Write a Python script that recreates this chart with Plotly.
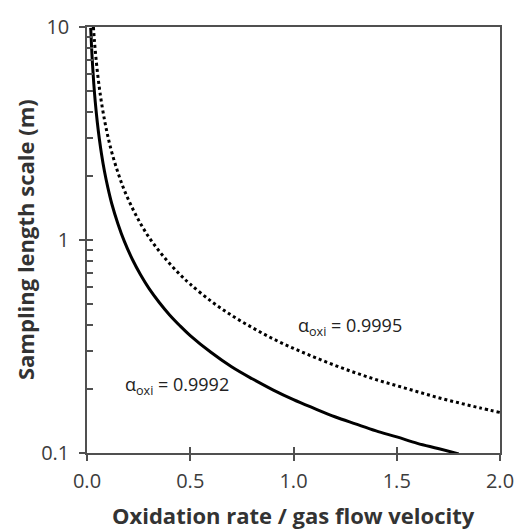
import math
import plotly.graph_objects as go

# Data
x_9992 = [0.018, 0.022, 0.027, 0.033, 0.04, 0.05, 0.06, 0.07, 0.085, 0.1, 0.12, 0.15, 0.18, 0.22, 0.26, 0.3,
          0.35, 0.4, 0.45, 0.5, 0.6, 0.7, 0.8, 0.9, 1.0, 1.1, 1.2, 1.3, 1.4, 1.5, 1.6, 1.7, 1.8]
y_9992 = [9.9, 8.1, 6.6, 5.4, 4.45, 3.56, 2.97, 2.54, 2.09, 1.78, 1.48, 1.19, 0.99, 0.81, 0.685, 0.593,
          0.509, 0.445, 0.396, 0.356, 0.297, 0.254, 0.223, 0.198, 0.178, 0.162, 0.148, 0.137, 0.127, 0.119,
          0.111, 0.105, 0.099]

x_9995 = [0.031, 0.036, 0.042, 0.05, 0.06, 0.07, 0.085, 0.1, 0.12, 0.15, 0.18, 0.22, 0.26, 0.3, 0.35, 0.4,
          0.45, 0.5, 0.6, 0.7, 0.8, 0.9, 1.0, 1.1, 1.2, 1.3, 1.4, 1.5, 1.6, 1.7, 1.8, 1.9, 2.0]
y_9995 = [10.0, 8.6, 7.4, 6.2, 5.17, 4.43, 3.65, 3.1, 2.58, 2.07, 1.72, 1.41, 1.19, 1.03, 0.886, 0.775,
          0.689, 0.62, 0.517, 0.443, 0.388, 0.344, 0.31, 0.282, 0.258, 0.238, 0.221, 0.207, 0.194, 0.182,
          0.172, 0.163, 0.155]

x_ticks = [0.0, 0.5, 1.0, 1.5, 2.0]
x_ticklabels = ["0.0", "0.5", "1.0", "1.5", "2.0"]
y_ticks = [0.1, 1, 10]
y_ticklabels = ["0.1", "1", "10"]
y_minor = [0.2, 0.3, 0.4, 0.5, 0.6, 0.7, 0.8, 0.9, 2, 3, 4, 5, 6, 7, 8, 9]

labels = ["α<sub>oxi</sub> = 0.9992", "α<sub>oxi</sub> = 0.9995"]
label_x = [0.172, 1.014]
label_y = [0.208, 0.391]

x_title = "Oxidation rate / gas flow velocity"
y_title = "Sampling length scale (m)"

AX = "#505050"
FONT = "Open Sans"

fig = go.Figure()
fig.add_trace(go.Scatter(x=x_9992, y=y_9992, mode="lines", line=dict(color="black", width=3, shape="spline"),
                         showlegend=False))
fig.add_trace(go.Scatter(x=x_9995, y=y_9995, mode="lines", line=dict(color="black", width=3, dash="dot", shape="spline"),
                         showlegend=False))
# invisible trace to anchor overlay axes (inside tick marks)
fig.add_trace(go.Scatter(x=[x_ticks[0]], y=[y_ticks[1]], xaxis="x2", yaxis="y2", mode="markers",
                         marker=dict(opacity=0), showlegend=False, hoverinfo="skip"))

fig.update_layout(
    width=526, height=531,
    margin=dict(l=87, r=21, t=27, b=78),
    paper_bgcolor="white", plot_bgcolor="white",
    font=dict(family=FONT, color="#333333"),
    xaxis=dict(range=[0, 2], tickvals=x_ticks, ticktext=x_ticklabels, ticks="outside", ticklen=6,
               tickwidth=1.5, tickcolor=AX, showline=True, linecolor=AX, linewidth=1.5, mirror=True,
               showgrid=False, zeroline=False, tickfont=dict(size=20, color="#3c3c3c", family=FONT),
               ticklabelstandoff=3),
    yaxis=dict(type="log", range=[-1, 1], tickvals=y_ticks, ticktext=y_ticklabels, ticks="outside", ticklen=6,
               tickwidth=1.5, tickcolor=AX, showline=True, linecolor=AX, linewidth=1.5, mirror=True,
               showgrid=False, zeroline=False, tickfont=dict(size=20, color="#3c3c3c", family=FONT),
               ticklabelstandoff=6),
    xaxis2=dict(range=[0, 2], overlaying="x", anchor="y2", tickvals=x_ticks, ticks="inside", ticklen=6,
                tickwidth=1.5, tickcolor=AX, showticklabels=False, showgrid=False, zeroline=False, showline=False),
    yaxis2=dict(type="log", range=[-1, 1], overlaying="y", anchor="x2", side="left",
                tickvals=y_ticks + y_minor, ticks="inside", ticklen=6, tickwidth=1.5, tickcolor=AX,
                showticklabels=False, showgrid=False, zeroline=False, showline=False),
)

for t, xx, yy in zip(labels, label_x, label_y):
    fig.add_annotation(x=xx, y=math.log10(yy), yref="y", xref="x", text=t, showarrow=False,
                       xanchor="left", yanchor="middle", font=dict(size=18, color="#222222", family=FONT))

# axis titles
fig.add_annotation(x=0.5, y=-0.145, xref="paper", yref="paper", text="<b>" + x_title + "</b>", showarrow=False,
                   xanchor="center", yanchor="middle", font=dict(size=22, color="#333333", family=FONT))
fig.add_annotation(x=-0.15, y=0.5, xref="paper", yref="paper", text="<b>" + y_title + "</b>", showarrow=False,
                   textangle=-90, xanchor="center", yanchor="middle", font=dict(size=22, color="#333333", family=FONT))

fig.write_html("out.html")
